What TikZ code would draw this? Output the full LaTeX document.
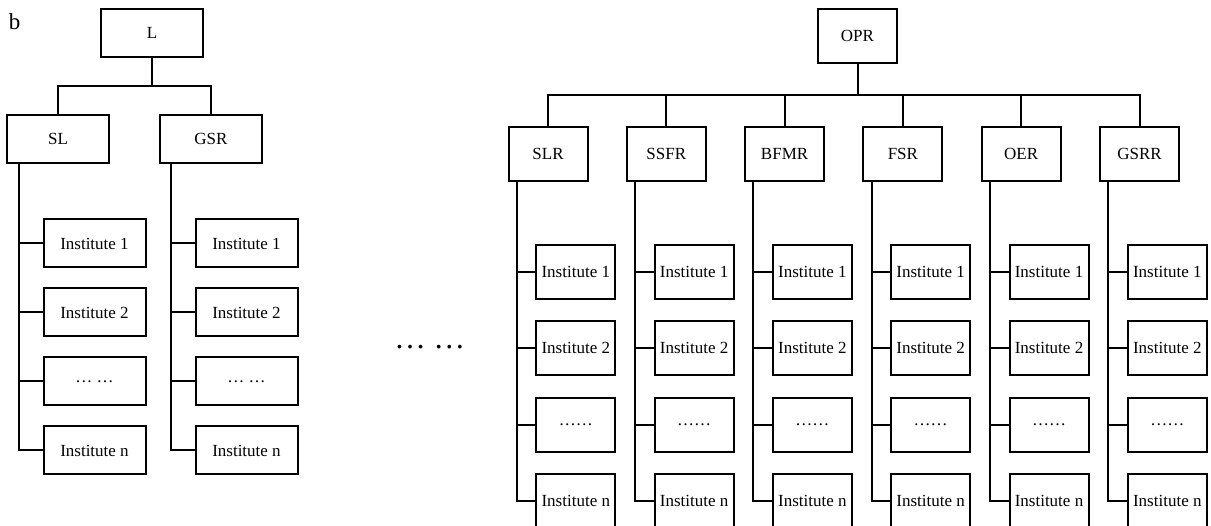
\documentclass[tikz,border=0pt]{standalone}
\usepackage{fontspec}
\setmainfont{Liberation Serif}
\usepackage{tikz}
\usetikzlibrary{positioning}

\begin{document}
\begin{tikzpicture}[x=1pt, y=-1pt, line width=2pt,
  unit/.style={draw, line width=2pt, inner sep=0pt, minimum width=79pt,
    minimum height=54pt, font=\fontsize{17}{20}\selectfont},
  wide/.style={unit, minimum width=102pt, minimum height=48pt}]

  \newcommand\Xr{118.3}
  \newcommand\Yr{76.6}
  \newcommand\Yl{69}

  \useasboundingbox (0,0) rectangle (1211,526);
  \clip (0,0) rectangle (1211,526);

  \node[anchor=base west, inner sep=0pt, font=\fontsize{23}{26}\selectfont] (tag) at (8,29.3) {b};

  %% left tree
  \node[wide] (L) at (152,33) {L};
  \node[wide] (SL) at (58,139) {SL};
  \node[wide] (GSR) at (211,139) {GSR};
  \draw (L.south) -- ++(0,28) -| (SL.north);
  \draw (L.south) -- ++(0,28) -| (GSR.north);
  \foreach \t/\j in {Institute 1/1, Institute 2/2, … …/3, Institute n/4}
  {
    \node[wide] (sl\j) at (94.5, 174.5+\j*\Yl) {\t};
    \node[wide] (gsr\j) at (246.5, 174.5+\j*\Yl) {\t};
    \draw ([xshift=-39pt]SL.south) |- (sl\j.west);  %% SL->institute
    \draw ([xshift=-40pt]GSR.south) |- (gsr\j.west);  %% GSR->institute
  }

  \node[anchor=base, font=\fontsize{31.5}{36}\selectfont] (gap) at (429.7,349) {…\ …};

  %% right tree
  \node[unit] (OPR) at (857.5,36) {OPR};
  \coordinate (bar) at (857.5,95);
  \draw (OPR.south) -- (bar);
  \foreach \n [count=\i from 0] in {SLR,SSFR,BFMR,FSR,OER,GSRR}
  {
    \node[unit] (\n) at (548+\i*\Xr, 154) {\n};
    \draw (bar) -| (\n.north);  %% OPR->column
    \foreach \t/\j in {Institute 1/1, Institute 2/2, ……/3, Institute n/4}
    {
      \node[unit] (\n\j) at (575.8+\i*\Xr, 195+\j*\Yr) {\t};
      \draw ([xshift=-31.3pt]\n.south) |- (\n\j.west);  %% column->institute
    }
  }
\end{tikzpicture}
\end{document}
